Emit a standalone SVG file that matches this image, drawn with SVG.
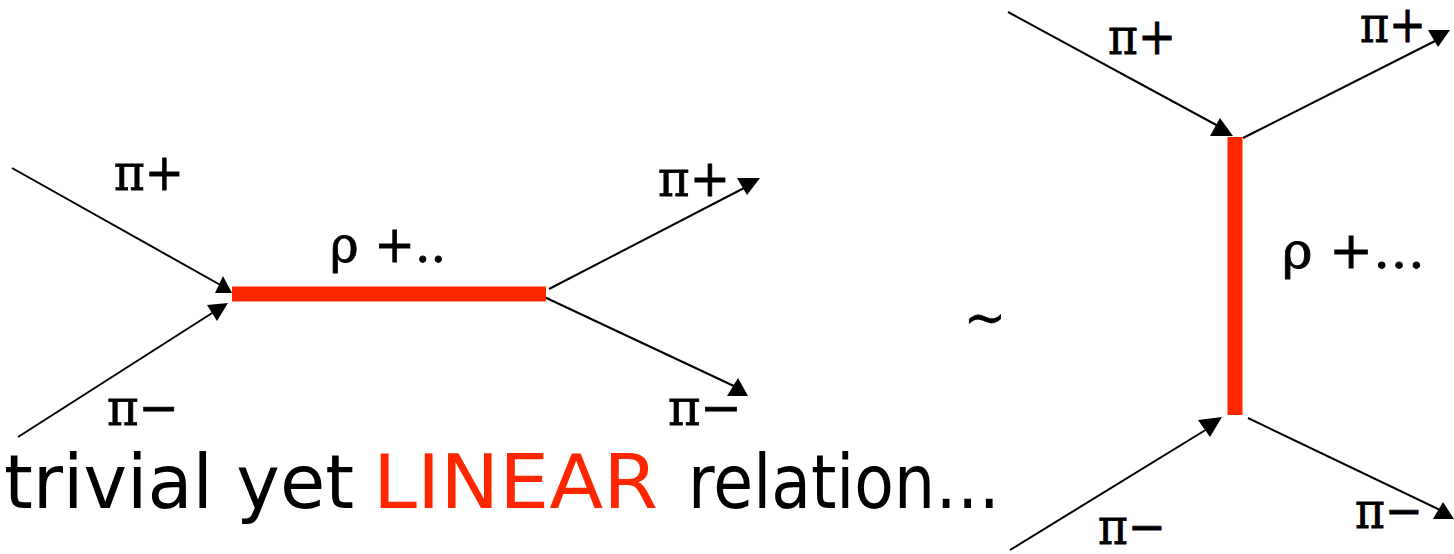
<svg xmlns="http://www.w3.org/2000/svg" width="1454" height="554" viewBox="0 0 1454 554">
<style>
.ln{stroke:#000;stroke-width:2;fill:none}
.ah{fill:#000}
.prop{stroke:#ff2600;stroke-width:15;fill:none}
.lbl{font-family:"DejaVu Serif","Liberation Serif",serif;font-size:50px;fill:#000;stroke:#000;stroke-width:0.8}
.cap{font-family:"DejaVu Sans","Liberation Sans",sans-serif;font-size:74px}
</style>
<rect width="1454" height="554" fill="#fff"/>
<g id="connectors">
  <line class="ln" x1="12" y1="168" x2="224" y2="287"/>
  <polygon class="ah" points="223,276 215,293 232,293"/>
  <line class="ln" x1="18" y1="437" x2="220" y2="308"/>
  <polygon class="ah" points="207,305 228,303 217,321"/>
  <line class="ln" x1="549" y1="289" x2="746" y2="187"/>
  <polygon class="ah" points="737,178 760,178 747,195"/>
  <line class="ln" x1="540" y1="295" x2="736" y2="387"/>
  <polygon class="ah" points="727,396 748,396 738,378"/>
  <line class="ln" x1="1008" y1="12" x2="1220" y2="127"/>
  <polygon class="ah" points="1220,118 1210,136 1233,136"/>
  <line class="ln" x1="1243" y1="138" x2="1437" y2="40"/>
  <polygon class="ah" points="1428,30 1450,30 1438,47"/>
  <line class="ln" x1="1010" y1="550" x2="1212" y2="426"/>
  <polygon class="ah" points="1198,420 1222,417 1210,437"/>
  <line class="ln" x1="1248" y1="418" x2="1440" y2="510"/>
  <polygon class="ah" points="1433,519 1454,519 1443,502"/>
</g>
<g id="propagators">
  <line class="prop" x1="232" y1="294" x2="546" y2="294"/>
  <line class="prop" x1="1235" y1="137" x2="1235" y2="415"/>
</g>
<g id="n-left-pip-in"><text class="lbl" x="114" y="190" textLength="70" lengthAdjust="spacingAndGlyphs">π+</text></g>
<g id="n-left-pim-in"><text class="lbl" x="107" y="425" textLength="72" lengthAdjust="spacingAndGlyphs">π−</text></g>
<g id="n-left-rho"><text class="lbl" x="330" y="262" textLength="116" lengthAdjust="spacingAndGlyphs">ρ +..</text></g>
<g id="n-left-pip-out"><text class="lbl" x="658" y="196" textLength="72" lengthAdjust="spacingAndGlyphs">π+</text></g>
<g id="n-left-pim-out"><text class="lbl" x="668" y="425" textLength="74" lengthAdjust="spacingAndGlyphs">π−</text></g>
<g id="n-tilde"><text class="lbl" x="964" y="335" font-size="48">~</text></g>
<g id="n-right-pip-in"><text class="lbl" x="1108" y="54" textLength="68" lengthAdjust="spacingAndGlyphs">π+</text></g>
<g id="n-right-pip-out"><text class="lbl" x="1360" y="42" textLength="66" lengthAdjust="spacingAndGlyphs">π+</text></g>
<g id="n-right-rho"><text class="lbl" x="1282" y="268" textLength="143" lengthAdjust="spacingAndGlyphs">ρ +…</text></g>
<g id="n-right-pim-in"><text class="lbl" x="1098" y="544" textLength="68" lengthAdjust="spacingAndGlyphs">π−</text></g>
<g id="n-right-pim-out"><text class="lbl" x="1355" y="528" textLength="68" lengthAdjust="spacingAndGlyphs">π−</text></g>
<g id="caption">
  <text class="cap" x="4" y="508" textLength="350" lengthAdjust="spacingAndGlyphs" fill="#000">trivial yet</text>
  <text class="cap" x="373" y="508" textLength="285" lengthAdjust="spacingAndGlyphs" fill="#ff2600">LINEAR</text>
  <text class="cap" x="688" y="508" textLength="312" lengthAdjust="spacingAndGlyphs" fill="#000">relation…</text>
</g>
</svg>
